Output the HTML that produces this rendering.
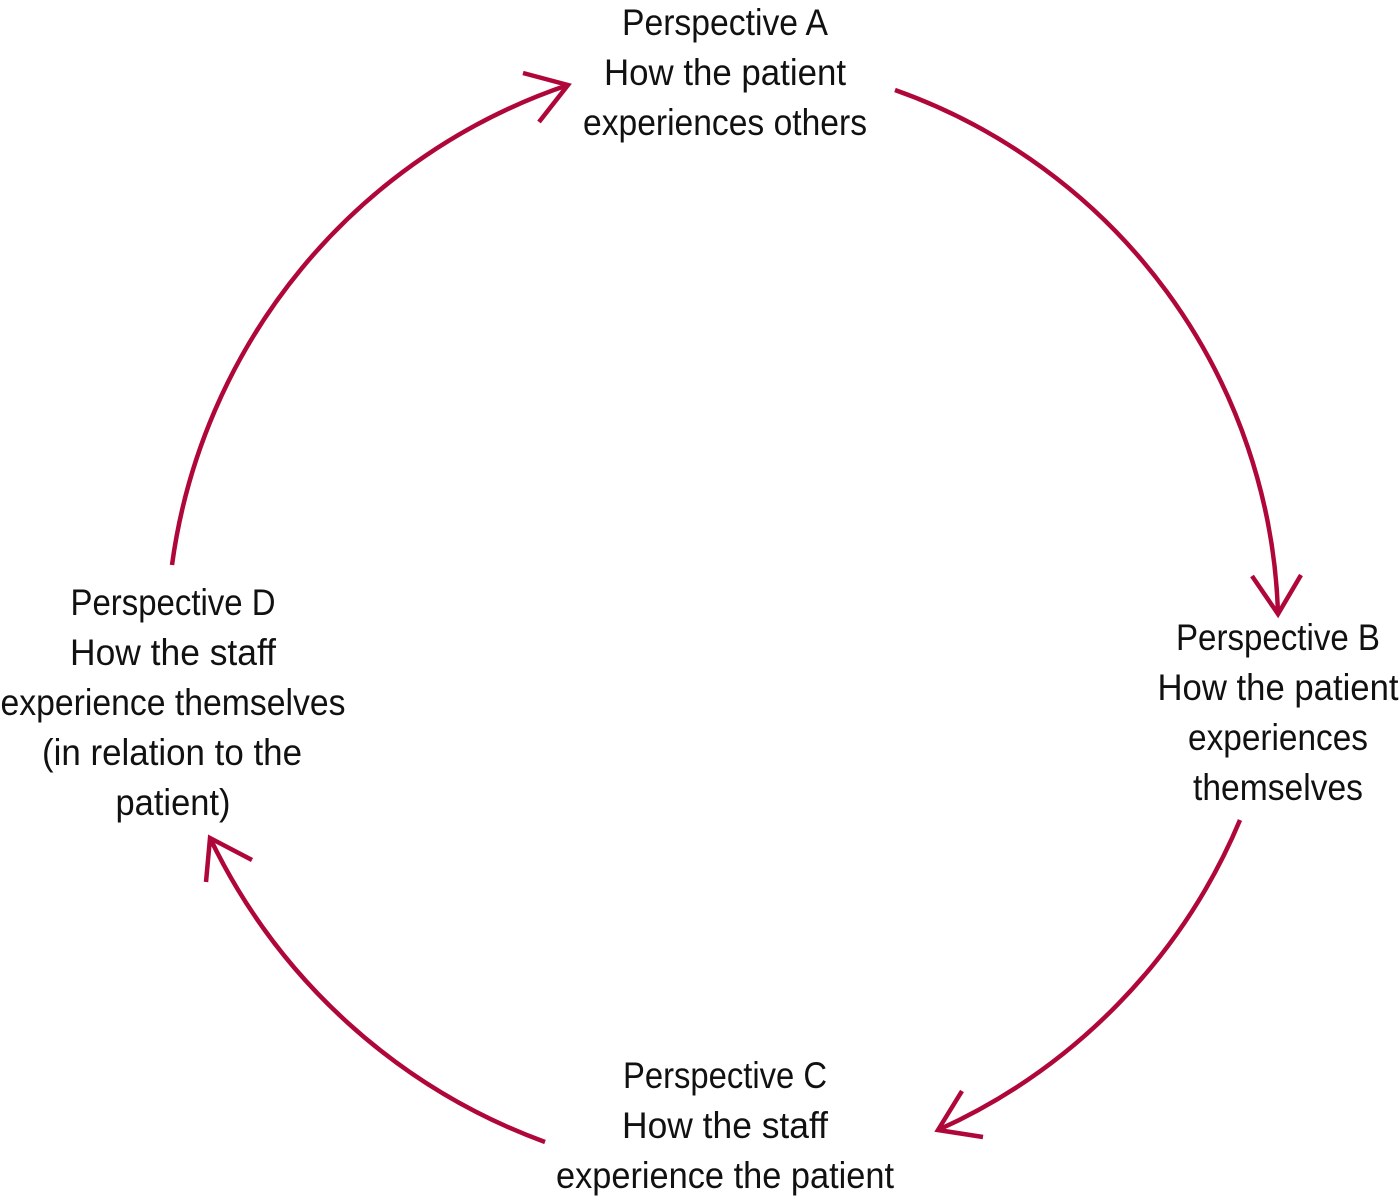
<!DOCTYPE html>
<html><head><meta charset="utf-8"><style>
html,body{margin:0;padding:0;background:#fff;}
svg{display:block;}
text{font-family:"Liberation Sans Narrow","Liberation Sans",sans-serif;font-size:37px;fill:#111;text-anchor:middle;}
</style></head><body>
<svg width="1400" height="1199" viewBox="0 0 1400 1199">
<g fill="none" stroke="#b0073b" stroke-width="4.5" stroke-linecap="butt" stroke-linejoin="miter">
<path d="M895,90 A 575 575 0 0 1 1278,612"/>
<path d="M1252,576 L1278,614 L1301,575"/>
<path d="M1240,820 A 590 590 0 0 1 938,1130"/>
<path d="M962,1091 L938,1130 L983,1137"/>
<path d="M545,1142 A 600 600 0 0 1 210,838"/>
<path d="M206,882 L210,838 L252,860"/>
<path d="M172,565 A 590 590 0 0 1 568,85"/>
<path d="M523,73 L568,85 L539,122"/>
</g>
<g lengthAdjust="spacingAndGlyphs">
<text x="725" y="35" textLength="206" lengthAdjust="spacingAndGlyphs">Perspective A</text>
<text x="725" y="85" textLength="242" lengthAdjust="spacingAndGlyphs">How the patient</text>
<text x="725" y="135" textLength="284" lengthAdjust="spacingAndGlyphs">experiences others</text>
<text x="1278" y="650" textLength="204" lengthAdjust="spacingAndGlyphs">Perspective B</text>
<text x="1278" y="700" textLength="241" lengthAdjust="spacingAndGlyphs">How the patient</text>
<text x="1278" y="750" textLength="180" lengthAdjust="spacingAndGlyphs">experiences</text>
<text x="1278" y="800" textLength="170" lengthAdjust="spacingAndGlyphs">themselves</text>
<text x="725" y="1088" textLength="204" lengthAdjust="spacingAndGlyphs">Perspective C</text>
<text x="725" y="1138" textLength="206" lengthAdjust="spacingAndGlyphs">How the staff</text>
<text x="725" y="1188" textLength="338" lengthAdjust="spacingAndGlyphs">experience the patient</text>
<text x="173" y="615" textLength="205" lengthAdjust="spacingAndGlyphs">Perspective D</text>
<text x="173" y="665" textLength="206" lengthAdjust="spacingAndGlyphs">How the staff</text>
<text x="173" y="715" textLength="345" lengthAdjust="spacingAndGlyphs">experience themselves</text>
<text x="172" y="765" textLength="260" lengthAdjust="spacingAndGlyphs">(in relation to the</text>
<text x="173" y="815" textLength="115" lengthAdjust="spacingAndGlyphs">patient)</text>
</g>
</svg>
</body></html>
